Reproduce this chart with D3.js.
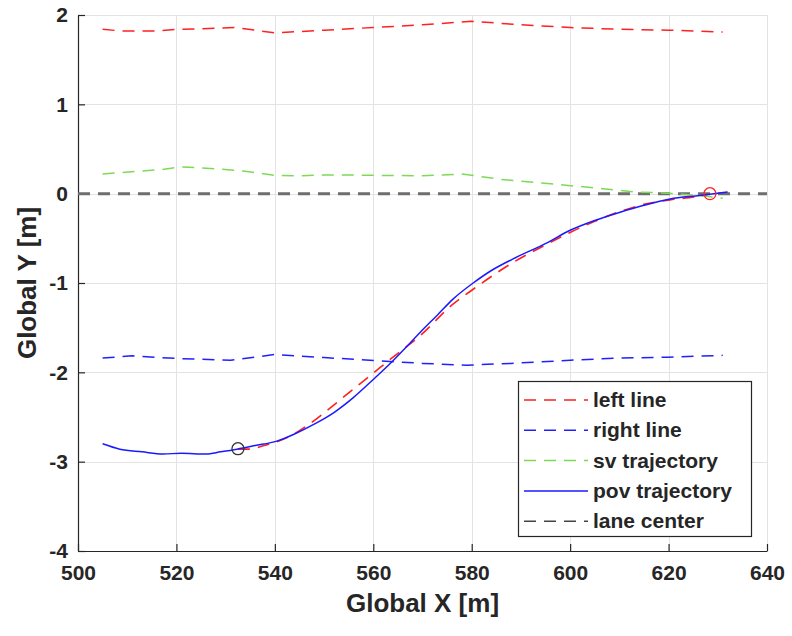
<!DOCTYPE html>
<html>
<head>
<meta charset="utf-8">
<script src="https://cdn.jsdelivr.net/npm/d3@7"></script>
<style>
  html, body { margin: 0; padding: 0; background: #fff; }
  svg { display: block; }
  text { font-family: "Liberation Sans", Arial, sans-serif; font-weight: bold; fill: #262626; }
</style>
</head>
<body>
<script>
// Lane boundaries (sampled road-edge positions)
const leftLineX  = [505, 509, 516, 520, 525, 532, 540, 550, 560, 570, 580, 585, 590, 600, 610, 620, 631];
const leftLineY  = [1.84, 1.82, 1.82, 1.84, 1.845, 1.86, 1.80, 1.83, 1.86, 1.89, 1.93, 1.91, 1.89, 1.86, 1.84, 1.83, 1.81];
const rightLineX = [505, 511, 517, 520, 531, 540, 550, 561, 570, 579, 588, 600, 610, 620, 631];
const rightLineY = [-1.84, -1.815, -1.835, -1.845, -1.865, -1.80, -1.835, -1.87, -1.90, -1.92, -1.90, -1.865, -1.84, -1.83, -1.81];

// Surrounding vehicle trajectory
const svX = [505, 512, 517, 521, 529, 534, 540, 545, 550, 555, 560, 570, 578, 586, 596, 606, 613, 620, 626, 631];
const svY = [0.22, 0.25, 0.27, 0.30, 0.275, 0.25, 0.205, 0.20, 0.21, 0.21, 0.205, 0.20, 0.22, 0.16, 0.11, 0.06, 0.02, 0.005, -0.02, -0.05];

// Ego (pov) trajectory
const povX = [505, 508.5, 513, 517.3, 521, 526, 529, 532.3, 536, 540.4, 544, 548, 552, 556, 560, 564, 567, 569.5, 573, 576.2, 580.3, 584, 588.4, 595.3, 600, 605, 610, 615, 620.3, 626.4, 632];
const povY = [-2.80, -2.86, -2.89, -2.915, -2.905, -2.915, -2.89, -2.86, -2.82, -2.77, -2.69, -2.58, -2.45, -2.28, -2.08, -1.87, -1.70, -1.554, -1.36, -1.18, -1.00, -0.86, -0.73, -0.55, -0.41, -0.30, -0.21, -0.13, -0.06, -0.02, 0.02];

// Planned lane-change path from start point to goal point
const planX = [532.5, 534.3, 538.4, 542.5, 547, 551.2, 555, 559.3, 564, 569.5, 576.2, 580.3, 588.4, 595.3, 600, 605, 610.1, 615, 620.3, 626.4, 628.4];
const planY = [-2.86, -2.86, -2.81, -2.73, -2.58, -2.40, -2.23, -2.04, -1.83, -1.59, -1.237, -1.07, -0.77, -0.565, -0.434, -0.31, -0.20, -0.12, -0.07, -0.025, 0];

// Lane center
const laneX = [500, 640];
const laneY = [0, 0];

// Start and goal markers
const startPt = [532.5, -2.855];
const goalPt  = [628.4, 0];

// Axis ticks and legend
const xTicks = [500, 520, 540, 560, 580, 600, 620, 640];
const yTicks = [-4, -3, -2, -1, 0, 1, 2];
const legendLabels = ["left line", "right line", "sv trajectory", "pov trajectory", "lane center"];

const W = 792, H = 636;
const svg = d3.select("body").append("svg").attr("width", W).attr("height", H);

const x = d3.scaleLinear().domain([500, 640]).range([78, 767]);
const y = d3.scaleLinear().domain([-4, 2]).range([551, 15]);

// Grid
const grid = svg.append("g").attr("stroke", "#e3e3e3").attr("stroke-width", 1);
grid.selectAll("line.gx").data(xTicks.slice(1)).join("line")
  .attr("x1", d => Math.round(x(d)) + 0.5).attr("x2", d => Math.round(x(d)) + 0.5)
  .attr("y1", y(2)).attr("y2", y(-4));
grid.selectAll("line.gy").data(yTicks.slice(1)).join("line")
  .attr("y1", d => Math.round(y(d)) + 0.5).attr("y2", d => Math.round(y(d)) + 0.5)
  .attr("x1", x(500)).attr("x2", x(640));

// Axes (ticks point inward)
const fmt = d => String(d);
const xAxis = svg.append("g").attr("transform", `translate(0,${y(-4)})`)
  .call(d3.axisBottom(x).tickValues(xTicks).tickFormat(fmt).tickSize(-7).tickPadding(14).tickSizeOuter(0));
const yAxis = svg.append("g").attr("transform", `translate(${x(500)},0)`)
  .call(d3.axisLeft(y).tickValues(yTicks).tickFormat(fmt).tickSize(-7).tickPadding(10).tickSizeOuter(0));
[xAxis, yAxis].forEach(a => {
  a.select(".domain").attr("stroke", "#262626").attr("stroke-width", 1.2);
  a.selectAll(".tick line").attr("stroke", "#262626").attr("stroke-width", 1.2);
  a.selectAll(".tick text").attr("font-size", 21).attr("font-family", "Liberation Sans, Arial, sans-serif")
    .attr("font-weight", "bold").attr("fill", "#262626");
});

const zip = (xs, ys) => xs.map((v, i) => [v, ys[i]]);
const lineLin = d3.line().x(d => x(d[0])).y(d => y(d[1]));
const lineSmooth = d3.line().x(d => x(d[0])).y(d => y(d[1])).curve(d3.curveMonotoneX);

const dash = "12,8";

svg.append("path").datum(zip(laneX, laneY)).attr("d", lineLin)
  .attr("fill", "none").attr("stroke", "#6e6e6e").attr("stroke-width", 3).attr("stroke-dasharray", dash);

svg.append("path").datum(zip(leftLineX, leftLineY)).attr("d", lineLin)
  .attr("fill", "none").attr("stroke", "#ff2020").attr("stroke-width", 1.5).attr("stroke-dasharray", dash);
svg.append("path").datum(zip(rightLineX, rightLineY)).attr("d", lineLin)
  .attr("fill", "none").attr("stroke", "#2020ff").attr("stroke-width", 1.5).attr("stroke-dasharray", dash);
svg.append("path").datum(zip(svX, svY)).attr("d", lineLin)
  .attr("fill", "none").attr("stroke", "#7ed957").attr("stroke-width", 1.5).attr("stroke-dasharray", dash);

svg.append("path").datum(zip(planX, planY)).attr("d", lineSmooth)
  .attr("fill", "none").attr("stroke", "#ff2020").attr("stroke-width", 1.6).attr("stroke-dasharray", dash);
svg.append("path").datum(zip(povX, povY)).attr("d", lineSmooth)
  .attr("fill", "none").attr("stroke", "#1a1aff").attr("stroke-width", 1.5);

svg.append("circle").attr("cx", x(startPt[0])).attr("cy", y(startPt[1])).attr("r", 6)
  .attr("fill", "none").attr("stroke", "#333").attr("stroke-width", 1.3);
svg.append("circle").attr("cx", x(goalPt[0])).attr("cy", y(goalPt[1])).attr("r", 6)
  .attr("fill", "none").attr("stroke", "#ff2020").attr("stroke-width", 1.3);

// Axis titles
svg.append("text").attr("x", (x(500) + x(640)) / 2).attr("y", 612)
  .attr("text-anchor", "middle").attr("font-size", 26).text("Global X [m]");
svg.append("text").attr("transform", `translate(36,${(y(2) + y(-4)) / 2}) rotate(-90)`)
  .attr("text-anchor", "middle").attr("font-size", 26).text("Global Y [m]");

// Legend
const leg = svg.append("g");
leg.append("rect").attr("x", 518.5).attr("y", 381.5).attr("width", 233).attr("height", 155)
  .attr("fill", "#fff").attr("stroke", "#262626").attr("stroke-width", 1.2);
const legStyles = [
  { color: "#ff2020", dash: dash, w: 1.5 },
  { color: "#2020ff", dash: dash, w: 1.5 },
  { color: "#7ed957", dash: dash, w: 1.5 },
  { color: "#1a1aff", dash: null, w: 1.5 },
  { color: "#444", dash: dash, w: 1.5 }
];
legendLabels.forEach((lab, i) => {
  const cy = 400 + i * 30.3;
  const ln = leg.append("line").attr("x1", 524).attr("x2", 588).attr("y1", cy).attr("y2", cy)
    .attr("stroke", legStyles[i].color).attr("stroke-width", legStyles[i].w);
  if (legStyles[i].dash) ln.attr("stroke-dasharray", legStyles[i].dash);
  leg.append("text").attr("x", 593).attr("y", cy + 7).attr("font-size", 21).attr("fill", "#000").text(lab);
});
</script>
</body>
</html>
